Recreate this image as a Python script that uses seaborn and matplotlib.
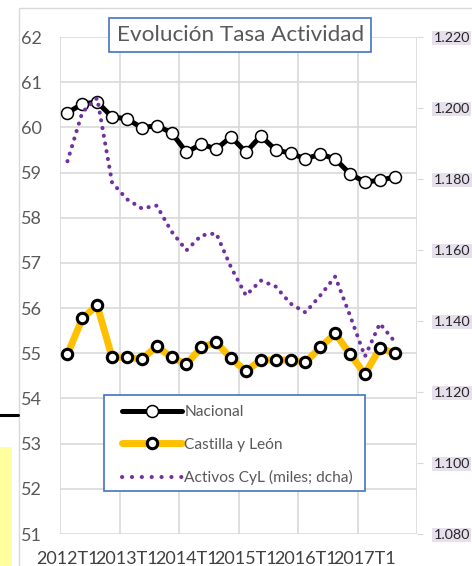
import numpy as np
import pandas as pd
import matplotlib
matplotlib.use('Agg')  # no display
import matplotlib.pyplot as plt
import seaborn as sns
from matplotlib.lines import Line2D
from matplotlib.patches import Rectangle
from matplotlib.ticker import FuncFormatter, MultipleLocator

########################################
# DATA
########################################
trimestres = ["2012T1", "2012T2", "2012T3", "2012T4",
              "2013T1", "2013T2", "2013T3", "2013T4",
              "2014T1", "2014T2", "2014T3", "2014T4",
              "2015T1", "2015T2", "2015T3", "2015T4",
              "2016T1", "2016T2", "2016T3", "2016T4",
              "2017T1", "2017T2", "2017T3"]

# tasa de actividad (%), eje izquierdo
nacional = [60.32, 60.52, 60.56, 60.23, 60.19, 59.99, 60.04, 59.88,
            59.45, 59.63, 59.52, 59.79, 59.45, 59.81, 59.50, 59.43,
            59.30, 59.41, 59.30, 58.97, 58.79, 58.83, 58.90]
castilla_leon = [54.98, 55.77, 56.06, 54.91, 54.91, 54.87, 55.15, 54.91,
                 54.76, 55.13, 55.24, 54.89, 54.60, 54.85, 54.85, 54.85,
                 54.80, 55.13, 55.44, 54.98, 54.54, 55.11, 55.00]

# activos CyL (miles), eje derecho
activos_cyl = [1185.0, 1198.8, 1202.8, 1179.0, 1174.3, 1171.7, 1172.5, 1165.2,
               1159.9, 1164.1, 1164.7, 1155.1, 1147.2, 1151.4, 1149.7, 1144.9,
               1142.4, 1147.2, 1152.5, 1141.5, 1130.0, 1139.3, 1134.2]

df = pd.DataFrame({
    "trimestre": trimestres,
    "pos": np.arange(len(trimestres)),
    "nacional": nacional,
    "cyl": castilla_leon,
    "activos": activos_cyl,
})

########################################
# FIGURE
########################################
sns.set_style("white")
plt.rcParams['font.family'] = ['Lato', 'DejaVu Sans']

fig = plt.figure(figsize=(4.72, 5.66), dpi=100)
ax = fig.add_axes([60 / 472, 1 - 534 / 566, (417 - 60) / 472, (534 - 37) / 566])
ax2 = ax.twinx()

GRID = "#D9D9D9"
TXT = "#595959"

# left axis series
sns.lineplot(data=df, x="pos", y="cyl", ax=ax, color="#FFC000", lw=5,
             marker="o", ms=7.5, mfc="white", mec="black", mew=2.2, zorder=3)
sns.lineplot(data=df, x="pos", y="nacional", ax=ax, color="black", lw=3.6,
             marker="o", ms=8.6, mfc="white", mec="black", mew=1.1, zorder=4)

# right axis series
sns.lineplot(data=df, x="pos", y="activos", ax=ax2, color="#7030A0", lw=2.9,
             linestyle=(0, (0.05, 1.9)), dash_capstyle="round")

ax.set_xlim(-0.5, 23.5)
ax.set_ylim(51, 62)
ax2.set_ylim(1080, 1220)

ax.yaxis.set_major_locator(MultipleLocator(1))
ax.set_xticks(df["pos"][::4])
ax.set_xticklabels(df["trimestre"][::4])
ax.set_xticks(np.arange(-0.5, 24, 4), minor=True)
ax.grid(axis="y", which="major", color=GRID, lw=1.2)
ax.grid(axis="x", which="minor", color=GRID, lw=1.2)
ax.grid(axis="x", which="major", visible=False)
ax.set_xlabel("")
ax.set_ylabel("")
ax2.set_ylabel("")

ax.tick_params(axis="both", which="both", length=0)
ax.tick_params(axis="y", labelsize=13, labelcolor=TXT, pad=13)
ax.tick_params(axis="x", labelsize=13, labelcolor="#404040", pad=12)

ax2.yaxis.set_major_locator(MultipleLocator(20))
ax2.yaxis.set_major_formatter(FuncFormatter(lambda v, p: f"{v / 1000:.3f}"))
ax2.tick_params(axis="y", length=4, color=GRID, labelsize=10.3,
                labelcolor="#262626", pad=8)
for lab in ax2.get_yticklabels():
    lab.set_bbox(dict(facecolor="#E6E0EC", edgecolor="none", pad=1))

for s in ax.spines.values():
    s.set_visible(False)
for s in ax2.spines.values():
    s.set_visible(False)
ax2.patch.set_visible(False)

# title box
fig.text(0.5095, 1 - 35 / 566, "Evolución Tasa Actividad", ha="center", va="center",
         fontsize=16.2, color=TXT,
         bbox=dict(facecolor="white", edgecolor="#4472C4", lw=1.2,
                   boxstyle="square,pad=0.33"))

# legend: frame drawn by hand, entries without frame on top
ax2.add_patch(Rectangle((104 / 472, 1 - 491 / 566), (365 - 104) / 472, (491 - 395) / 566,
                        transform=fig.transFigure, facecolor="white",
                        edgecolor="#4472C4", lw=1.2, zorder=9, clip_on=False))
handles = [
    Line2D([], [], color="black", lw=3.6, marker="o", ms=8.6, mfc="white",
           mec="black", mew=1.1),
    Line2D([], [], color="#FFC000", lw=5, marker="o", ms=7.5, mfc="white",
           mec="black", mew=2.2),
    Line2D([], [], color="#7030A0", lw=2.9, linestyle=(0, (0.05, 2.4)),
           dash_capstyle="round"),
]
labels = ["Nacional", "Castilla y León", "Activos CyL (miles; dcha)"]
leg = ax2.legend(handles, labels, loc="upper left",
                 bbox_to_anchor=(122 / 472, 1 - 405 / 566),
                 bbox_transform=fig.transFigure, borderaxespad=0, borderpad=0,
                 fontsize=11.2, handlelength=3.85, handletextpad=0.15,
                 labelspacing=1.2, frameon=False, labelcolor=TXT)
leg.set_zorder(10)

# bits of the surrounding sheet
fig.patches.append(Rectangle((19 / 472, -0.05), 1.0, 1 - 8 / 566 + 0.05,
                             transform=fig.transFigure, fill=False,
                             edgecolor=GRID, lw=1))
fig.lines.append(Line2D([0, 18 / 472], [1 - 415 / 566] * 2, color="black",
                        lw=2.2, transform=fig.transFigure))
fig.patches.append(Rectangle((0, 0), 12 / 472, (566 - 447) / 566,
                             transform=fig.transFigure, facecolor="#FFFF9F",
                             edgecolor="none"))

plt.savefig("out.png", dpi=100)
plt.close()
